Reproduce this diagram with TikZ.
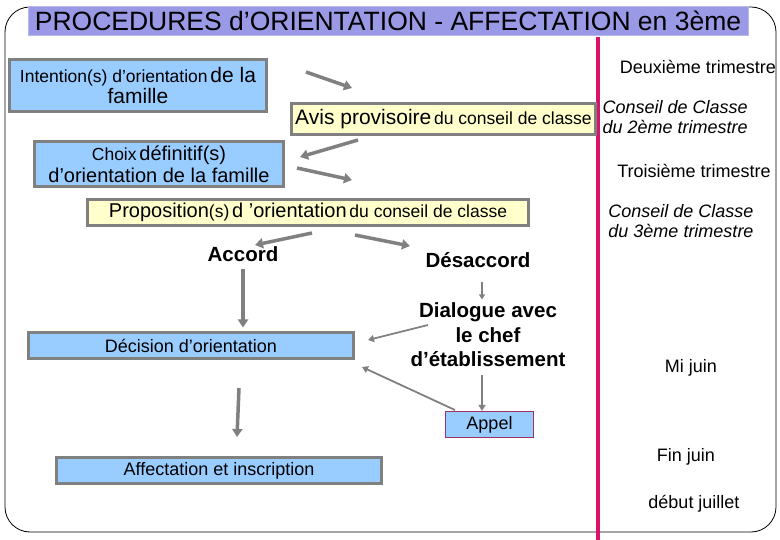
\documentclass[tikz,border=0pt]{standalone}
\usepackage{fontspec}
\setmainfont{Liberation Sans}
\usepackage{xcolor}
\usetikzlibrary{arrows.meta, positioning}

\definecolor{titlebg}{RGB}{153,153,230}
\definecolor{boxblue}{RGB}{153,204,255}
\definecolor{boxyellow}{RGB}{255,255,204}
\definecolor{boxedge}{RGB}{128,128,128}
\definecolor{timeline}{RGB}{214,20,110}
\definecolor{appeledge}{RGB}{153,51,102}

\newcommand{\fs}[1]{\fontsize{#1}{#1}\selectfont}
\newcommand{\fsl}[2]{\fontsize{#1}{#2}\selectfont}

\begin{document}
\begin{tikzpicture}[x=1pt, y=-1pt,
  bluebox/.style={draw=boxedge, line width=3pt, fill=boxblue, inner sep=0pt, align=center},
  yellowbox/.style={draw=boxedge, line width=3pt, fill=boxyellow, inner sep=0pt, align=center},
  bigarrow/.style={draw=boxedge, line width=3.5pt, -{Triangle[length=8pt,width=10pt]}},
  smallarrow/.style={draw=boxedge, line width=1.8pt, -{Triangle[length=6pt,width=7pt]}},
  period/.style={font=\fs{18}, align=center},
  council/.style={font=\fsl{18}{20}\itshape, align=left},
  verdict/.style={font=\fs{20.5}\bfseries, align=center}]
\useasboundingbox (0,0) rectangle (780,540);

\draw[line width=0.8pt, rounded corners=25pt] (5,7) rectangle (776,532);
\node[fill=titlebg, draw=titlebg!70!white, minimum width=720pt, minimum height=29pt, inner sep=0pt, font=\fs{26.5}] (title) at (388,20.5) {PROCEDURES d'ORIENTATION - AFFECTATION en 3ème};
\draw[timeline, line width=4pt] (598,37) -- (598,540);

\node[bluebox, minimum width=257pt, minimum height=52pt] (intention) at (138,85.5)
  {{\fs{17.5}Intention(s) d'orientation} {\fs{21}de la}\\[1pt]{\fs{21}famille}};
\node[yellowbox, minimum width=304pt, minimum height=31pt] (avis) at (443.5,119)
  {{\fs{21}Avis provisoire} {\fs{17.5}du conseil de classe}};
\node[bluebox, minimum width=249pt, minimum height=45pt] (choix) at (159,164)
  {{\fs{17.5}Choix} {\fs{20}définitif(s)}\\[2pt]{\fs{20}d'orientation de la famille}};
\node[yellowbox, minimum width=441pt, minimum height=26pt] (proposition) at (308,212.5)
  {{\fs{20}Proposition}{\fs{17.5}(s)} {\fs{20}d 'orientation} {\fs{17.5}du conseil de classe}};
\node[bluebox, minimum width=325pt, minimum height=26pt, font=\fs{18}] (decision) at (191,346) {Décision d'orientation};
\node[bluebox, minimum width=325pt, minimum height=26pt, font=\fs{18}] (affectation) at (219,470.5) {Affectation et inscription};
\node[draw=appeledge, line width=1.2pt, fill=boxblue, minimum width=88pt, minimum height=26pt, inner sep=0pt, font=\fs{18}] (appel) at (489.5,424.5) {Appel};

\node[verdict] (accord) at (243,254) {Accord};
\node[verdict] (desaccord) at (478,260) {Désaccord};
\node[verdict, font=\fsl{20.5}{24.5}\bfseries] (dialogue) at (488,335) {Dialogue avec\\le chef\\d'établissement};

\node[period] (t2) at (698,67) {Deuxième trimestre};
\node[council, anchor=west] (cc2) at (599,117) {Conseil de Classe\\du 2ème trimestre};
\node[period] (t3) at (694,171) {Troisième trimestre};
\node[council, align=center] (cc3) at (681,221) {Conseil de Classe\\du 3ème trimestre};
\node[font=\fs{18}] (mijuin) at (691,368) {Mi juin};
\node[font=\fs{18}] (finjuin) at (686,457) {Fin juin};
\node[font=\fs{18}] (juillet) at (694,504) {début juillet};

\coordinate (i1) at (306,72);
\coordinate (i2) at (352,88);
\coordinate (v1) at (358,140);
\coordinate (v2) at (300,157);
\coordinate (c1) at (297,168);
\coordinate (c2) at (352,180);
\coordinate (p1) at (312,233);
\coordinate (p2) at (255,245);
\coordinate (p3) at (355,235);
\coordinate (p4) at (410,246);
\coordinate (d1) at (482,282);
\coordinate (d2) at (428,325);
\coordinate (d3) at (368,340);
\coordinate (a1) at (482,375);
\coordinate (a2) at (455,410);
\coordinate (a3) at (362,367);
\coordinate (e1) at (239,388);
\coordinate (e2) at (237,437);

\draw[bigarrow] (i1) -- (i2);
\draw[bigarrow] (v1) -- (v2);
\draw[bigarrow] (c1) -- (c2);
\draw[bigarrow] (p1) -- (p2);
\draw[bigarrow] (p3) -- (p4);
\draw[bigarrow, shorten <=4pt, shorten >=4pt] (accord.south) -- (accord.south |- decision.north);
\draw[smallarrow, line width=1.2pt, -{Triangle[length=5pt,width=6pt]}] (d1) -- (d1 |- dialogue.north);
\draw[smallarrow] (d2) -- (d3);
\draw[smallarrow] (a1) -- (a1 |- appel.north);
\draw[smallarrow] (a2) -- (a3);
\draw[bigarrow] (e1) -- (e2);
\end{tikzpicture}
\end{document}
